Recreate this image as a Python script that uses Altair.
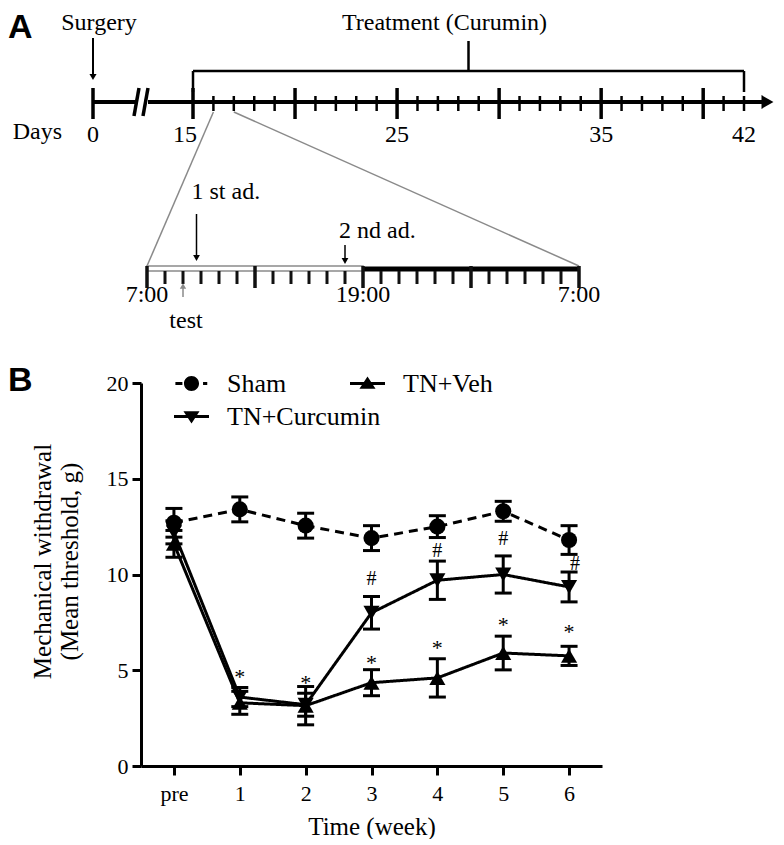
import altair as alt
import pandas as pd

# ====================== Panel A : experimental timeline ======================
surgery_day = 0
treatment_days = [15, 42]
daily_ticks = list(range(15, 43))
major_day_ticks = [0, 15, 20, 25, 30, 35, 40]
day_label_values = [0, 25, 35, 42]
day_label_texts = ["0", "25", "35", "42"]
shifted_label_values = [15]
shifted_label_texts = ["15"]
zoomed_days = [16, 17]
break_bottom = [6.15, 7.5]
break_top = [6.9, 8.25]
segment_start = [0, 8.25]
segment_end = [6.45, 42.9]
axis_tip = [43.15]

hour_ticks = list(range(0, 25))
major_hour_ticks = [0, 6, 12, 18, 24]
hour_label_values = [0, 12, 24]
hour_label_texts = ["7:00", "19:00", "7:00"]
light_phase = [0, 12]
dark_phase = [12, 24]
test_hour = 2
first_ad_hour = 2.75
second_ad_hour = 11

# ====================== Panel B : behaviour data ======================
weeks = ["pre", "1", "2", "3", "4", "5", "6"]
groups = ["Sham", "TN+Veh", "TN+Curcumin"]
sham_mean = [12.7, 13.4, 12.55, 11.9, 12.5, 13.3, 11.8]
sham_sem = [0.75, 0.65, 0.65, 0.65, 0.57, 0.52, 0.75]
veh_mean = [11.6, 3.3, 3.15, 4.35, 4.6, 5.9, 5.75]
veh_sem = [0.7, 0.6, 1.0, 0.68, 1.0, 0.88, 0.5]
cur_mean = [12.2, 3.6, 3.2, 8.0, 9.7, 10.0, 9.35]
cur_sem = [0.6, 0.5, 0.6, 0.85, 1.0, 0.97, 0.78]
star_weeks = ["1", "2", "3", "4", "5", "6"]
star_y = [4.9, 4.6, 5.65, 6.4, 7.6, 7.25]
hash_weeks = ["3", "4", "5", "6"]
hash_y = [9.75, 11.25, 11.85, 10.55]

SERIF = "Liberation Serif"
SANS = "Liberation Sans"
GRAY = "#8a8a8a"

# ---------------------------------------------------------------- Panel A
# both panels share the same plot origin (x = 134 px right of the page content edge)
O = 134
ZOOM_X0, ZOOM_X1 = 140 - O, 572 - O
DAY = alt.Scale(domain=[0, 15, 42], range=[86 - O, 186 - O, 737 - O], zero=False, nice=False)
HOUR = alt.Scale(domain=[0, 24], range=[ZOOM_X0, ZOOM_X1], zero=False, nice=False)


def xd(field="v", scale=DAY):
    return alt.X(f"{field}:Q", scale=scale, axis=None)


def one(v):
    return pd.DataFrame({"v": v if isinstance(v, list) else [v]})


def vrule(vals, scale, y0, y1, width=2.5, color="black"):
    return alt.Chart(one(vals)).mark_rule(strokeWidth=width, color=color).encode(
        x=xd("v", scale), y=alt.value(y0), y2=alt.value(y1))


def txt(vals, texts, scale, y, size=24, dx=0, align="center"):
    return alt.Chart(pd.DataFrame({"v": vals, "t": texts})).mark_text(
        font=SERIF, fontSize=size, dx=dx, align=align, baseline="middle", color="black"
    ).encode(x=xd("v", scale), y=alt.value(y), text="t:N")


def head(v, scale, y, shape, size=55, color="black"):
    return alt.Chart(one(v)).mark_point(shape=shape, filled=True, size=size, opacity=1,
                                        color=color).encode(x=xd("v", scale), y=alt.value(y))


minor_days = [d for d in daily_ticks if d not in major_day_ticks]
minor_hours = [h for h in hour_ticks if h not in major_hour_ticks]

a_layers = [
    alt.Chart(pd.DataFrame({"t": ["A"]})).mark_text(
        font=SANS, fontWeight="bold", fontSize=34, align="left", baseline="top", color="black"
    ).encode(x=alt.value(-O + 1), y=alt.value(0), text="t:N"),
    txt([surgery_day], ["Surgery"], DAY, 12, dx=6),
    txt([sum(treatment_days) / 2], ["Treatment (Curumin)"], DAY, 12, dx=-24),
    vrule([surgery_day], DAY, 27, 65, width=2),
    head([surgery_day], DAY, 66, "triangle-down", size=50),
    # brace
    alt.Chart(pd.DataFrame({"s": [treatment_days[0]], "e": [treatment_days[1]]})).mark_rule(
        strokeWidth=2.5, color="black").encode(x=xd("s"), x2="e:Q", y=alt.value(60)),
    vrule(treatment_days, DAY, 60, 81, width=2.5),
    vrule([sum(treatment_days) / 2], DAY, 30, 60, width=2.5),
    # time line
    alt.Chart(pd.DataFrame({"s": segment_start, "e": segment_end})).mark_rule(
        strokeWidth=4, color="black").encode(x=xd("s"), x2="e:Q", y=alt.value(91)),
    alt.Chart(pd.DataFrame({"b": break_bottom, "t": break_top})).mark_rule(
        strokeWidth=3.5, color="black").encode(x=xd("b"), x2="t:Q", y=alt.value(105), y2=alt.value(77)),
    vrule(minor_days, DAY, 85, 100, width=2.5),
    vrule(major_day_ticks, DAY, 77, 108, width=3.5),
    head(axis_tip, DAY, 91, "triangle-right", size=190),
    txt([surgery_day], ["Days"], DAY, 121, dx=-31, align="right"),
    txt(day_label_values, day_label_texts, DAY, 124),
    txt(shifted_label_values, shifted_label_texts, DAY, 124, dx=-8),
    # zoom connectors
    alt.Chart(one([zoomed_days[0]])).mark_rule(strokeWidth=1.5, color=GRAY).encode(
        x=xd("v"), x2=alt.value(ZOOM_X0), y=alt.value(101), y2=alt.value(255)),
    alt.Chart(one([zoomed_days[1]])).mark_rule(strokeWidth=1.5, color=GRAY).encode(
        x=xd("v"), x2=alt.value(ZOOM_X1), y=alt.value(101), y2=alt.value(255)),
    # zoomed day
    alt.Chart(pd.DataFrame({"s": [light_phase[0]], "e": [light_phase[1]]})).mark_rect(
        fill="white", stroke=GRAY, strokeWidth=1.5).encode(
        x=xd("s", HOUR), x2="e:Q", y=alt.value(255), y2=alt.value(260)),
    alt.Chart(pd.DataFrame({"s": [dark_phase[0]], "e": [dark_phase[1]]})).mark_rect(
        color="black").encode(x=xd("s", HOUR), x2="e:Q", y=alt.value(255.5), y2=alt.value(260.5)),
    vrule(minor_hours, HOUR, 260, 273, width=3, color="#111"),
    vrule(major_hour_ticks, HOUR, 255, 277, width=3.5, color="#111"),
    txt(hour_label_values, hour_label_texts, HOUR, 284),
    vrule([test_hour], HOUR, 286, 275, width=1.5, color=GRAY),
    head([test_hour], HOUR, 275, "triangle-up", size=40, color=GRAY),
    txt([test_hour], ["test"], HOUR, 310, dx=3),
    vrule([first_ad_hour], HOUR, 203, 246, width=1.5),
    head([first_ad_hour], HOUR, 247, "triangle-down", size=45),
    txt([first_ad_hour], ["1 st ad."], HOUR, 181, dx=-5, align="left"),
    vrule([second_ad_hour], HOUR, 234, 249, width=1.5),
    head([second_ad_hour], HOUR, 250, "triangle-down", size=45),
    txt([second_ad_hour], ["2 nd ad."], HOUR, 220, dx=-6, align="left"),
]
panel_a = alt.layer(*a_layers).resolve_scale(x="independent").properties(width=768 - O, height=330)

# ---------------------------------------------------------------- Panel B
rows = []
for g, m, s in [("Sham", sham_mean, sham_sem), ("TN+Veh", veh_mean, veh_sem),
                ("TN+Curcumin", cur_mean, cur_sem)]:
    for w, mm, ss in zip(weeks, m, s):
        rows.append({"week": w, "group": g, "mean": mm, "lo": mm - ss, "hi": mm + ss})
df = pd.DataFrame(rows)

X = alt.X("week:N", sort=weeks, scale=alt.Scale(type="point", domain=weeks, padding=0.5),
          axis=alt.Axis(title="Time (week)", labelAngle=0, labelPadding=8, titlePadding=10))
YS = alt.Scale(domain=[0, 20], nice=False)
YAX = alt.Axis(title=["Mechanical withdrawal", "(Mean threshold, g)"], values=[0, 5, 10, 15, 20],
               labelPadding=4, titlePadding=24, titleLineHeight=27, titleY=178)


def Yf(field):
    return alt.Y(f"{field}:Q", scale=YS, axis=YAX)


base = alt.Chart(df)
err = base.mark_rule(strokeWidth=3, color="black").encode(x=X, y=Yf("lo"), y2="hi:Q")
cap_lo = base.mark_tick(size=17, thickness=3, color="black", opacity=1).encode(x=X, y=Yf("lo"))
cap_hi = base.mark_tick(size=17, thickness=3, color="black", opacity=1).encode(x=X, y=Yf("hi"))
lines = base.mark_line(strokeWidth=3, color="black").encode(
    x=X, y=Yf("mean"), detail="group:N",
    strokeDash=alt.StrokeDash("group:N", scale=alt.Scale(domain=groups, range=[[9, 6], [1, 0], [1, 0]]),
                              legend=None))
pts = base.mark_point(filled=True, size=260, opacity=1, color="black").encode(
    x=X, y=Yf("mean"),
    shape=alt.Shape("group:N", scale=alt.Scale(domain=groups,
                                               range=["circle", "triangle-up", "triangle-down"]),
                    legend=None))

legend_paths = [
    "M-0.92,-0.08H-0.52V0.08H-0.92Z M0.43,0A0.43,0.43,0,1,1,-0.43,0A0.43,0.43,0,1,1,0.43,0Z M0.66,-0.08H0.9V0.08H0.66Z",
    "M-1,-0.08H1V0.08H-1Z M0,-0.4L0.46,0.3L-0.46,0.3Z",
    "M-1,-0.08H1V0.08H-1Z M0,0.4L-0.46,-0.3L0.46,-0.3Z",
]
leg = base.mark_point(filled=True, size=0, opacity=1, color="black").encode(
    x=X, y=Yf("mean"),
    shape=alt.Shape("group:N", scale=alt.Scale(domain=groups, range=legend_paths),
                    legend=alt.Legend(title=None, orient="none", legendX=33, legendY=-17, columns=2,
                                      direction="horizontal", gridAlign="none", columnPadding=-31,
                                      rowPadding=2, labelFont=SERIF, labelFontSize=26,
                                      labelColor="black", labelOffset=18, symbolSize=1225,
                                      symbolFillColor="black", symbolStrokeColor="black",
                                      symbolStrokeWidth=0, symbolOpacity=1)))

stars = alt.Chart(pd.DataFrame({"week": star_weeks, "y": star_y, "t": "*"})).mark_text(
    font=SERIF, fontSize=22, baseline="middle", dy=5, color="black").encode(x=X, y=Yf("y"), text="t:N")
hdf = pd.DataFrame({"week": hash_weeks, "y": hash_y, "t": "#"})
hashes = alt.Chart(hdf[hdf.week != "6"]).mark_text(
    font=SERIF, fontSize=20, baseline="middle", color="black").encode(x=X, y=Yf("y"), text="t:N")
hash6 = alt.Chart(hdf[hdf.week == "6"]).mark_text(
    font=SERIF, fontSize=20, baseline="middle", dx=6, color="black").encode(x=X, y=Yf("y"), text="t:N")
letter_b = alt.Chart(pd.DataFrame({"t": ["B"]})).mark_text(
    font=SANS, fontWeight="bold", fontSize=34, align="left", baseline="middle", color="black"
).encode(x=alt.value(-O + 1), y=alt.value(-2), text="t:N")

panel_b = alt.layer(err, cap_lo, cap_hi, lines, pts, leg, stars, hashes, hash6, letter_b).resolve_scale(
    shape="independent").properties(width=461, height=383)

chart = alt.vconcat(panel_a, panel_b, spacing=23).properties(
    padding={"left": 0, "top": 3, "right": 0, "bottom": 0}, background="white"
).configure(font=SERIF).configure_view(stroke=None).configure_axis(
    domainColor="black", domainWidth=3, tickColor="black", tickWidth=3, tickSize=9,
    labelFont=SERIF, labelFontSize=22, labelColor="black", titleFont=SERIF, titleFontSize=25,
    titleFontWeight="normal", titleColor="black", grid=False
).configure_legend(labelFont=SERIF, labelFontSize=26, labelColor="black")

chart.save("out.html", embed_options={"renderer": "svg", "actions": False})
